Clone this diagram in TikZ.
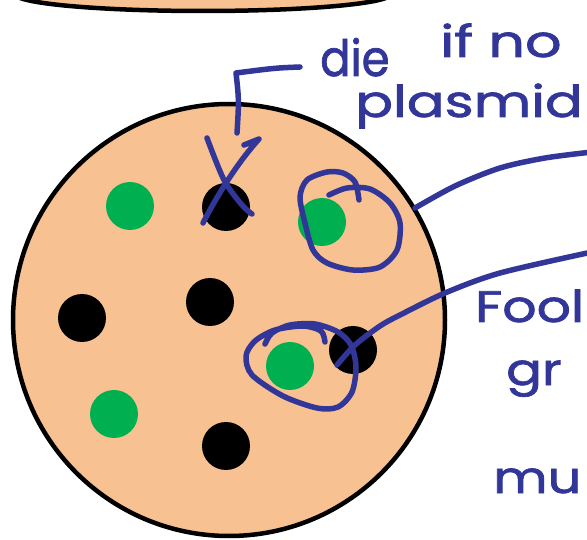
\documentclass[tikz,border=0pt]{standalone}
\usepackage{fontspec}
\newfontfamily\handfont{Poppins}[FakeBold=1.5]
\definecolor{peach}{RGB}{248,193,145}
\definecolor{leaf}{RGB}{0,176,80}
\definecolor{ink}{RGB}{51,54,153}
\begin{document}
\begin{tikzpicture}[x=1pt,y=-1pt,
  pen/.style={draw=ink,line width=5.5pt,line cap=round,line join=round},
  hand/.style={text=ink,font=\handfont\fontsize{44}{44}\selectfont,inner sep=0pt,anchor=base west},
  chrom/.style={circle,fill=black,minimum size=48pt,inner sep=0pt},
  plas/.style={circle,fill=leaf,minimum size=48pt,inner sep=0pt},
  cellbody/.style={circle,draw=black,line width=4.5pt,fill=peach,inner sep=0pt}]
\useasboundingbox (0,0) rectangle (587,540);
\clip (0,0) rectangle (587,540);

% neighbouring cell, cut off by the top edge
\draw[fill=peach,line width=4.5pt] (203,-6) ellipse [x radius=188, y radius=17];

% the cell with its chromosomes (black) and plasmids (green)
\node[cellbody,minimum size=432pt] (cell) at (229,320) {};
\node[plas]  (g1) at (130,206) {};
\node[chrom] (b1) at (226,207) {};
\node[plas]  (g4) at (322,222) {};
\node[chrom] (b2) at (82,318) {};
\node[chrom] (b3) at (210,302) {};
\node[chrom] (b5) at (353,350) {};
\node[plas]  (g3) at (290,366) {};
\node[plas]  (g2) at (114,414) {};
\node[chrom] (b4) at (226,446) {};

% handwritten notes
\node[hand,font=\handfont\fontsize{50}{50}\selectfont,xscale=0.9] (die) at (320,76) {die};
\node[hand,xscale=1.3] (ifno) at (440,57) {if no};
\node[hand,xscale=1.27] (plasmid) at (355,117) {plasmid};
\node[hand,xscale=1.22] (fool) at (475,322) {Fool};
\node[hand,xscale=1.2] (gr) at (506,385) {gr};
\node[hand,xscale=1.2] (mu) at (493,493) {mu};

% bracket from the note down to the crossed-out chromosome
\draw[pen] (300,67) .. controls (275,68) .. (236,73) .. controls (239,100) .. (237,133);
% cross over b1
\draw[pen] plot[smooth] coordinates {(207,138) (224,180) (242,205) (252,214)};
\draw[pen] (203,223) .. controls (220,190) and (240,160) .. (259,139) -- (244,145);

% loop round the upper plasmid and its pointer
\draw[pen] plot[smooth] coordinates {(329,195) (347,188) (370,189) (390,203) (400,223)
  (397,250) (380,267) (353,270) (327,263) (313,250) (305,223) (300,197) (307,180)
  (327,172) (343,173) (355,182) (359,200)};
\draw[pen] plot[smooth] coordinates {(415,208) (455,186) (500,168) (545,158) (592,152)};

% loop round the lower plasmid and its pointer
\draw[pen] plot[smooth] coordinates {(325,342) (321,331) (303,326) (275,330) (255,341)
  (246,356) (252,375) (283,396) (317,408) (338,407) (352,392) (356,367) (351,345)
  (338,332) (315,324) (290,325) (272,333) (265,344)};
\draw[pen] plot[smooth] coordinates {(337,365) (355,345) (380,326) (400,315) (445,293)
  (500,273) (592,252)};
\end{tikzpicture}
\end{document}
